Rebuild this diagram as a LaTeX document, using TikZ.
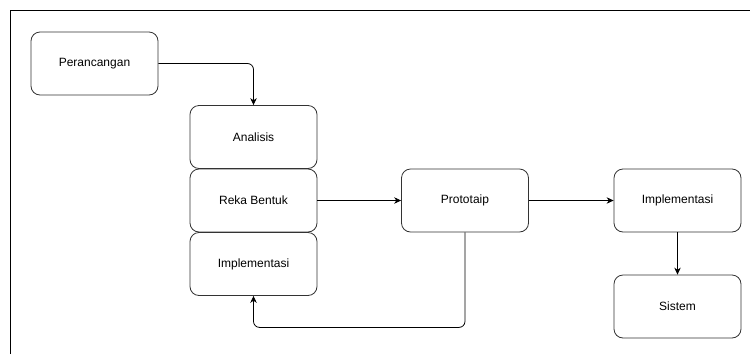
\documentclass[tikz,border=0pt]{standalone}
\usepackage{fontspec}
\setmainfont{Liberation Sans}
\usetikzlibrary{arrows.meta}

\begin{document}
\begin{tikzpicture}[x=1pt,y=-1pt,
    box/.style={draw=black!80, line width=0.8pt, rounded corners=9pt,
      minimum width=127pt, minimum height=63pt, inner sep=0pt,
      font=\fontsize{12}{14}\selectfont},
    flow/.style={draw, line width=0.8pt, rounded corners=6pt,
      -{Stealth[length=7pt,width=6.5pt]}}]
  \useasboundingbox (0,0) rectangle (750,354);
  \draw[line width=0.8pt] (10,354) -- (10,10) -- (750,10);

  \node[box] (perancangan) at (94.5,63.5) {Perancangan};
  \node[box] (analisis) at (253.5,137) {Analisis};
  \node[box] (reka) at (253.5,200.5) {Reka Bentuk};
  \node[box] (impl) at (253.5,264) {Implementasi};
  \node[box] (prototaip) at (465,200.5) {Prototaip};
  \node[box] (implakhir) at (677.5,200.5) {Implementasi};
  \node[box] (sistem) at (677.5,306.5) {Sistem};

  \draw[flow] (perancangan.east) -| (analisis.north);
  \draw[flow] (reka.east) -- (prototaip.west);
  \draw[flow] (prototaip.south) -- ++(0,95) -| (impl.south);
  \draw[flow] (prototaip.east) -- (implakhir.west);
  \draw[flow] (implakhir.south) -- (sistem.north);
\end{tikzpicture}
\end{document}
